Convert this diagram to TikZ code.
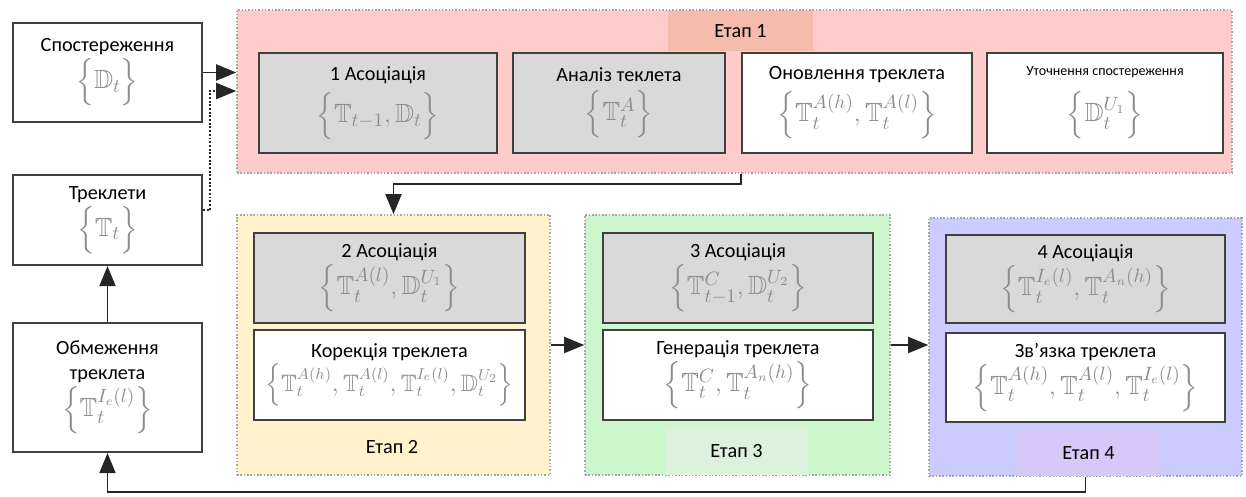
\documentclass[tikz,border=0pt]{standalone}
\usepackage{amssymb}
\usepackage{fontspec}
\setmainfont{Carlito}
\usepackage{tikz}
\usetikzlibrary{arrows.meta,positioning,calc}
\usepackage{xcolor}

\definecolor{boxline}{HTML}{404040}
\definecolor{mathgray}{HTML}{8C8C8C}
\definecolor{opgray}{HTML}{D9D9D9}
\definecolor{pinkbg}{HTML}{FFCCCC}
\definecolor{pinktab}{HTML}{F5BCAB}
\definecolor{yellowbg}{HTML}{FFF2CC}
\definecolor{greenbg}{HTML}{CCF7CC}
\definecolor{greentab}{HTML}{DDF2DD}
\definecolor{bluebg}{HTML}{CCCCFF}
\definecolor{bluetab}{HTML}{D6C8F8}

\newcommand{\brset}[1]{{\fontsize{15}{17}\selectfont\textcolor{mathgray}{$\left\{\vphantom{\mathbb{T}_t^{A(l)}}#1\right\}$}}}
\newcommand{\brsetsm}[1]{{\fontsize{13.5}{16}\selectfont\textcolor{mathgray}{$\left\{\vphantom{\mathbb{T}_t^{A(l)}}#1\right\}$}}}

\begin{document}
\begin{tikzpicture}[x=1cm,y=-1cm,>={Triangle[length=4mm,width=3.2mm]},
  font=\fontsize{11.5}{14}\selectfont,
  inbox/.style={rectangle,draw=boxline,line width=1.2pt,fill=white,align=center,inner sep=0pt},
  opbox/.style={inbox,fill=opgray},
  stage/.style={rectangle,draw=gray!70,densely dotted,line width=0.9pt,inner sep=0pt},
  tab/.style={rectangle,inner sep=0pt},
  link/.style={->,draw=black!85,line width=1.1pt}]

\useasboundingbox (0,0) rectangle (24.92,9.94);

% draw left column
\node[inbox,minimum width=3.78cm,minimum height=1.98cm] (obs) at (2.15,1.45) {Спостереження\\[1pt]\brset{\mathbb{D}_t}};
\node[inbox,minimum width=3.78cm,minimum height=1.8cm] (trk) at (2.15,4.4) {Треклети\\[1pt]\brset{\mathbb{T}_t}};
\node[inbox,minimum width=3.78cm,minimum height=2.58cm] (lim) at (2.15,7.75) {Обмеження\\треклета\\[1pt]\brset{\mathbb{T}_t^{I_e(l)}}};

% draw stage 1
\node[stage,fill=pinkbg,minimum width=19.9cm,minimum height=3.26cm] (st1) at (14.69,1.83) {};
\node[tab,fill=pinktab,minimum width=2.9cm,minimum height=0.8cm] (tab1) at (14.81,0.62) {Етап 1};
\node[opbox,minimum width=4.76cm,minimum height=2cm] (as1) at (7.56,2.06) {1 Асоціація\\[4pt]\brset{\mathbb{T}_{t-1},\mathbb{D}_t}};
\node[opbox,minimum width=4.24cm,minimum height=2cm] (ana) at (12.38,2.06) {Аналіз теклета\\[4pt]\brset{\mathbb{T}_t^{A}}};
\node[inbox,minimum width=4.6cm,minimum height=2cm] (upd) at (17.14,2.06) {Оновлення треклета\\[4pt]\brset{\mathbb{T}_t^{A(h)},\mathbb{T}_t^{A(l)}}};
\node[inbox,minimum width=4.72cm,minimum height=2cm] (ref) at (22.1,2.06) {{\fontsize{8}{10}\selectfont Уточнення спостереження}\\[7pt]\brset{\mathbb{D}_t^{U_1}}};

% draw stage 2
\node[stage,fill=yellowbg,minimum width=6.26cm,minimum height=5.2cm] (st2) at (7.87,6.9) {};
\node[opbox,minimum width=5.42cm,minimum height=1.8cm] (as2) at (7.79,5.56) {2 Асоціація\\[1pt]\brset{\mathbb{T}_t^{A(l)},\mathbb{D}_t^{U_1}}};
\node[inbox,minimum width=5.42cm,minimum height=1.8cm] (cor) at (7.79,7.5) {Корекція треклета\\[1pt]\brsetsm{\mathbb{T}_t^{A(h)},\mathbb{T}_t^{A(l)},\mathbb{T}_t^{I_e(l)},\mathbb{D}_t^{U_2}}};
\node[tab] (lab2) at (7.84,8.94) {Етап 2};

% draw stage 3
\node[stage,fill=greenbg,minimum width=6.1cm,minimum height=5.2cm] (st3) at (14.75,6.9) {};
\node[tab,fill=greentab,minimum width=2.86cm,minimum height=0.96cm] (tab3) at (14.73,9.02) {Етап 3};
\node[opbox,minimum width=5.4cm,minimum height=1.8cm] (as3) at (14.76,5.56) {3 Асоціація\\[1pt]\brset{\mathbb{T}_{t-1}^{C},\mathbb{D}_t^{U_2}}};
\node[inbox,minimum width=5.4cm,minimum height=1.8cm] (gen) at (14.76,7.5) {Генерація треклета\\[1pt]\brset{\mathbb{T}_t^{C},\mathbb{T}_t^{A_n(h)}}};

% draw stage 4
\node[stage,fill=bluebg,minimum width=6.26cm,minimum height=5.16cm] (st4) at (21.71,6.94) {};
\node[tab,fill=bluetab,minimum width=2.86cm,minimum height=0.92cm] (tab4) at (21.77,9.06) {Етап 4};
\node[opbox,minimum width=5.58cm,minimum height=1.76cm] (as4) at (21.71,5.58) {4 Асоціація\\[1pt]\brset{\mathbb{T}_t^{I_e(l)},\mathbb{T}_t^{A_n(h)}}};
\node[inbox,minimum width=5.58cm,minimum height=1.78cm] (lnk) at (21.71,7.55) {Зв’язка треклета\\[1pt]\brset{\mathbb{T}_t^{A(h)},\mathbb{T}_t^{A(l)},\mathbb{T}_t^{I_e(l)}}};

% connect inputs to stage 1
\coordinate (bend) at (4.2,1.82);
\draw[link] (obs.east) -- (obs.east -| st1.west);
\draw[link,densely dotted] ([yshift=0.2cm]trk.east) -| (bend) -- (bend -| st1.west);

% connect stages
\draw[link] (st1.south -| upd.west) -- ++(0,0.2) -| (st2.north);
\draw[link] (st2.east) -- (st3.west);
\draw[link] (st3.east) -- (st3.east -| st4.west);

% feedback to left column
\draw[link] (st4.south) -- ++(0,0.3) -| (lim.south);
\draw[link] (lim.north) -- (trk.south);

\end{tikzpicture}
\end{document}
